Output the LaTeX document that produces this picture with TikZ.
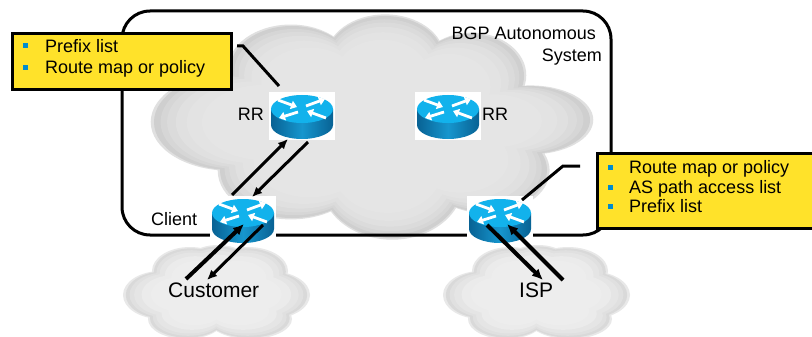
\documentclass[tikz,border=0pt]{standalone}
\usepackage{fontspec}
\setmainfont{Liberation Sans}
\usetikzlibrary{arrows.meta,calc}

\definecolor{calloutyellow}{RGB}{255,226,42}
\definecolor{bulletblue}{RGB}{0,140,205}
\definecolor{routertop}{RGB}{18,178,236}
\definecolor{routermid}{RGB}{22,150,206}
\definecolor{routeredge}{RGB}{8,98,148}

% cloud outlines as unions of ellipses
\newcommand\asclouda{
  (232,122) ellipse [x radius=78, y radius=48]
  (292,70) ellipse [x radius=62, y radius=44]
  (385,58) ellipse [x radius=58, y radius=42]
  (470,76) ellipse [x radius=54, y radius=42]
  (528,120) ellipse [x radius=62, y radius=34]
  (485,170) ellipse [x radius=62, y radius=42]
  (392,182) ellipse [x radius=70, y radius=56]
  (292,170) ellipse [x radius=72, y radius=48]
  (370,120) ellipse [x radius=115, y radius=78]}
\newcommand\smallclouda[2]{
  (#1+0,#2+0) ellipse [x radius=72, y radius=36]
  (#1-55,#2+2) ellipse [x radius=38, y radius=24]
  (#1+54,#2+2) ellipse [x radius=40, y radius=24]
  (#1-26,#2-22) ellipse [x radius=38, y radius=24]
  (#1+32,#2-22) ellipse [x radius=40, y radius=24]
  (#1+2,#2-30) ellipse [x radius=32, y radius=18]
  (#1-30,#2+26) ellipse [x radius=38, y radius=20]
  (#1+34,#2+26) ellipse [x radius=42, y radius=20]}

% router icon drawn over a named white box
\newcommand\routericon[1]{
  \begin{scope}[shift={(#1.center)}]
    \shade[left color=routeredge, right color=routeredge, middle color=routermid]
      (-31,-7) -- (-31,9) arc [start angle=180, end angle=0, x radius=31, y radius=14]
      -- (31,-7) -- cycle;
    \fill[routertop] (0,-7) ellipse [x radius=31, y radius=14];
    \draw[routerarrow] (-24,-16) -- (-5,-9);
    \draw[routerarrow] (24,2) -- (5,-5);
    \draw[routerarrow] (4,-10) -- (23,-17);
    \draw[routerarrow] (-4,-4) -- (-23,2);
  \end{scope}}

\tikzset{
  routerbox/.style={fill=white, minimum width=66pt, minimum height=48pt, inner sep=0pt},
  routerarrow/.style={white, line width=2.8pt, -{Triangle[length=6pt, width=8.5pt]}},
  asbox/.style={line width=3pt, rounded corners=28pt},
  callout/.style={fill=calloutyellow, draw=black, line width=3pt, inner sep=0pt},
  calloutline/.style={line width=3pt},
  bulletsq/.style={fill=bulletblue, minimum size=5pt, inner sep=0pt},
  lbl/.style={inner sep=0pt, font=\fontsize{18}{21}\selectfont},
  biglbl/.style={inner sep=0pt, font=\fontsize{21}{24}\selectfont},
  conn/.style={line width=3pt, -{Latex[length=10pt, width=9pt]}},
  thickconn/.style={line width=4pt, -{Latex[length=11pt, width=10pt]}},
}

\begin{document}
\begin{tikzpicture}[x=1pt, y=-1pt]
  \useasboundingbox (0,0) rectangle (812,337);
  \clip (0,0) rectangle (812,337);
  \fill[white] (0,0) rectangle (812,337);

  % gray cloud of the autonomous system, lighter towards its middle
  \foreach \p/\s in {12/1.015, 19/1.0, 16/0.97, 14/0.94, 12/0.9, 11/0.85, 10/0.78}
    \fill[black!\p, scale around={\s:(372,124)}] \asclouda;

  % autonomous system frame
  \draw[asbox] (122,11) rectangle (611,235);

  % customer and ISP clouds
  \foreach \cx in {216,536}{
    \foreach \p/\s in {9/1.0, 15/0.97, 12/0.93, 10/0.88, 8/0.8, 7/0.7}
      \fill[black!\p, scale around={\s:(\cx,293)}] \smallclouda{\cx}{293};
  }

  % routers
  \node[routerbox] (rrl) at (302,116) {};
  \node[routerbox] (rrr) at (448,116) {};
  \node[routerbox] (cl) at (243,220) {};
  \node[routerbox] (ir) at (500,220) {};
  \routericon{rrl}
  \routericon{rrr}
  \routericon{cl}
  \routericon{ir}

  % labels
  \node[lbl, anchor=base east] (bgp) at (596,40) {BGP Autonomous};
  \node[lbl, anchor=base east] (sys) at (602,62) {System};
  \node[lbl, anchor=base east] (rrltxt) at (264,121) {RR};
  \node[lbl, anchor=base west] (rrrtxt) at (482,121) {RR};
  \node[lbl, anchor=base west] (cltxt) at (151,225) {Client};
  \node[biglbl, anchor=base west] (cust) at (168,297) {Customer};
  \node[biglbl, anchor=base west] (isp) at (519,297) {ISP};

  % route exchange
  \draw[conn] ([shift={(-11,-25)}]cl.center) -- ([shift={(-14,23)}]rrl.center);
  \draw[conn] ([shift={(6,26)}]rrl.center) -- ([shift={(9,-23)}]cl.center);
  \draw[thickconn] ([shift={(18,-18)}]cust.base west) -- ([shift={(1,4)}]cl.center);
  \draw[conn] ([shift={(20,5)}]cl.center) -- ([shift={(39,-17)}]cust.base west);
  \draw[thickconn] ([shift={(-13,5)}]ir.center) -- ([shift={(24,-17)}]isp.base west);
  \draw[thickconn] ([shift={(44,-17)}]isp.base west) -- ([shift={(7,4)}]ir.center);

  % callouts
  \node[callout, anchor=north west, minimum width=219pt, minimum height=56pt] (cb1) at (11,32) {};
  \node[bulletsq] (b11) at (25,46) {};
  \node[bulletsq] (b12) at (25,68) {};
  \node[lbl, anchor=base west] (t11) at (45,53) {Prefix list};
  \node[lbl, anchor=base west] (t12) at (45,74) {Route map or policy};
  \coordinate (k1a) at (237,46);
  \coordinate (k1b) at (243,46);
  \draw[calloutline] (k1a) -- (k1b) -- ([shift={(-23,-30)}]rrl.center);

  \node[callout, anchor=north west, minimum width=240pt, minimum height=75pt] (cb2) at (596,152) {};
  \node[bulletsq] (b21) at (610,167) {};
  \node[bulletsq] (b22) at (610,187) {};
  \node[bulletsq] (b23) at (610,206) {};
  \node[lbl, anchor=base west] (t21) at (629,173) {Route map or policy};
  \node[lbl, anchor=base west] (t22) at (629,193) {AS path access list};
  \node[lbl, anchor=base west] (t23) at (629,212) {Prefix list};
  \coordinate (k2a) at (580,166);
  \coordinate (k2b) at (563,166);
  \draw[calloutline] (k2a) -- (k2b) -- ([shift={(22,-20)}]ir.center);
\end{tikzpicture}
\end{document}
